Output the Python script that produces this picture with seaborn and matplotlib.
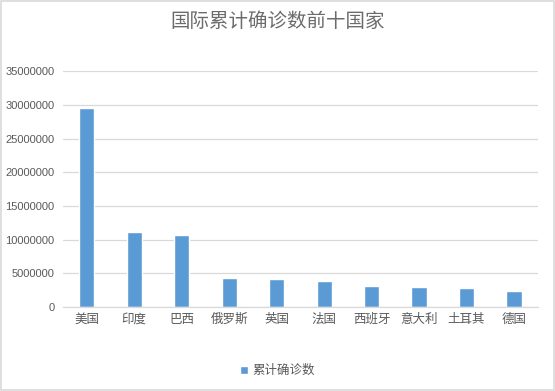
import matplotlib
matplotlib.use("Agg")
import matplotlib.pyplot as plt
import seaborn as sns
import pandas as pd
from matplotlib.patches import Rectangle
from matplotlib.ticker import FuncFormatter

countries = ["美国", "印度", "巴西", "俄罗斯", "英国", "法国", "西班牙", "意大利", "土耳其", "德国"]
cases = [29550000, 11150000, 10750000, 4250000, 4230000, 3930000, 3050000, 3020000, 2750000, 2450000]
series_name = "累计确诊数"
title = "国际累计确诊数前十国家"
yticks = [0, 5000000, 10000000, 15000000, 20000000, 25000000, 30000000, 35000000]

sns.set_theme(style="white")
plt.rcParams['font.family'] = ['Noto Sans CJK SC', 'DejaVu Sans']

df = pd.DataFrame({"country": countries, "cases": cases, "series": series_name})

fig = plt.figure(figsize=(5.55, 3.91), dpi=100)
ax = fig.add_axes([0.1135, 0.2148, 0.969 - 0.1135, 0.818 - 0.2148])

sns.barplot(data=df, x="country", y="cases", hue="series", palette=["#5b9bd5"],
            width=0.32, ax=ax, saturation=1)

ax.set_ylim(0, 35000000)
ax.set_yticks(yticks)
ax.yaxis.set_major_formatter(FuncFormatter(lambda v, p: f"{int(v)}"))
ax.grid(axis="y", color="#d9d9d9", linewidth=0.9)
ax.set_axisbelow(True)
for s in ["top", "right", "left"]:
    ax.spines[s].set_visible(False)
ax.spines["bottom"].set_color("#d9d9d9")
ax.spines["bottom"].set_linewidth(0.9)
ax.set_xlabel("")
ax.set_ylabel("")
ax.tick_params(axis="both", length=0, colors="#595959", labelsize=9)
ax.tick_params(axis="y", pad=6)
ax.tick_params(axis="x", pad=4)
for lbl in ax.get_yticklabels():
    lbl.set_fontfamily(["Liberation Sans", "DejaVu Sans"])
    lbl.set_fontsize(8)
ax.set_xlim(-0.5, len(countries) - 0.5)

fig.text(0.5, 0.945, title, ha="center", va="center", fontsize=14, color="#6b6b6b")

ax.legend_.remove()
handles, labels = ax.get_legend_handles_labels()
fig.legend(handles, labels, loc="center", bbox_to_anchor=(0.5, 0.052), frameon=False,
           fontsize=9, labelcolor="#595959", handlelength=0.6, handleheight=0.6,
           handletextpad=0.4)

fig.patches.append(Rectangle((0.002, 0.002), 0.996, 0.996, transform=fig.transFigure,
                             fill=False, edgecolor="#d9d9d9", linewidth=1.2))

fig.savefig("out.png", dpi=100)
